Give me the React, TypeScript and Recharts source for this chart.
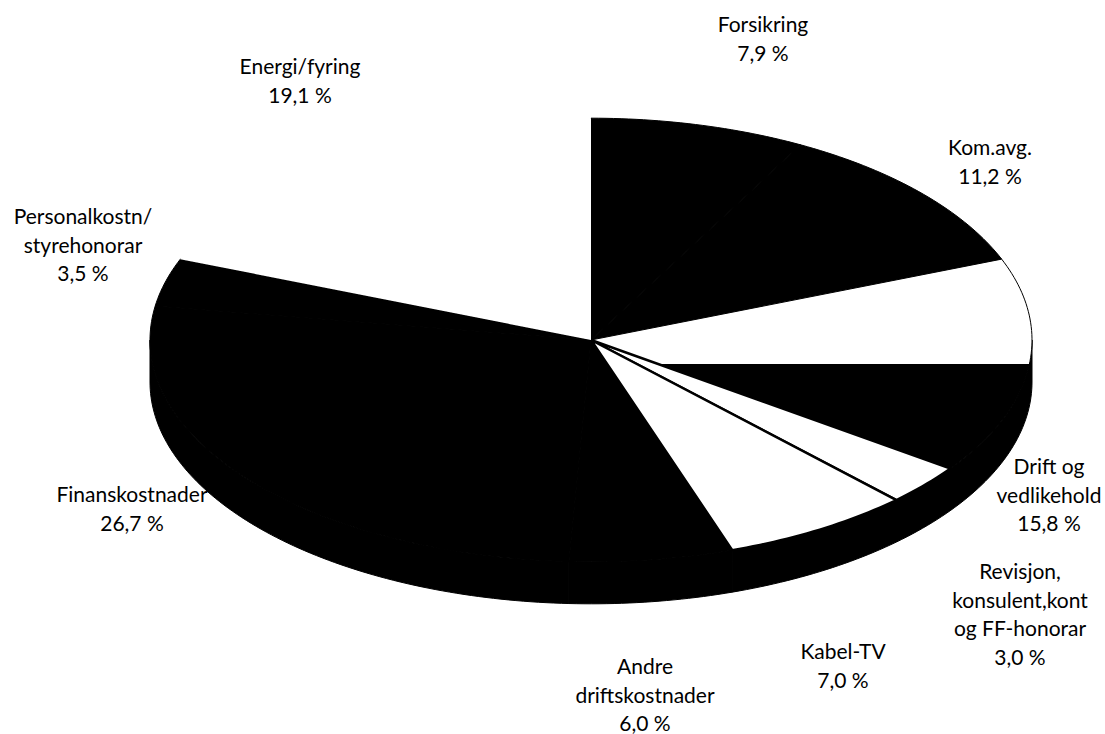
import { Cell, Pie, PieChart } from 'recharts';

// cost shares, clockwise from 12 o'clock
const categories = [
  'Forsikring',
  'Kom.avg.',
  'Drift og\nvedlikehold',
  'Revisjon,\nkonsulent,kont\nog FF-honorar',
  'Kabel-TV',
  'Andre\ndriftskostnader',
  'Finanskostnader',
  'Personalkostn/\nstyrehonorar',
  'Energi/fyring',
];
const shares = [7.9, 11.2, 15.8, 3.0, 7.0, 6.0, 26.7, 3.5, 19.1];

const rows = categories.map((name, i) => ({ name, value: shares[i] }));

const W = 1105;
const H = 734;
const CX = 591;
const CY = 340;
const RX = 441;
const TILT = 0.503; // ry / rx of the tilted top face
const DEPTH = 42;

const topFill = ['#000', '#000', 'url(#driftSplit)', '#fff', '#fff', '#000', '#000', '#000', '#fff'];
const topStroke = ['#000', '#000', '#000', '#000', '#000', '#000', '#000', '#000', 'none'];
const topStrokeW = [1, 1, 1, 2.5, 2.5, 1, 1, 1, 0];

// label block: centre x, centre y of first line
const labelPos: [number, number][] = [
  [763, 25],
  [990, 148],
  [1049, 467],
  [1020, 572],
  [843, 652],
  [645, 667],
  [132, 495],
  [83, 217],
  [300, 67],
];
const LINE_H = 28.5;
const FONT = 'Lato, "Open Sans", sans-serif';

const fmtPct = (v: number) => `${v.toFixed(1).replace('.', ',')} %`;

function rim(cx: number, cy: number, r: number, deg: number, dy = 0): [number, number] {
  const a = (deg * Math.PI) / 180;
  return [cx + r * Math.cos(a), cy - r * TILT * Math.sin(a) + dy];
}

function arcPts(cx: number, cy: number, r: number, from: number, to: number, dy = 0) {
  const n = Math.max(2, Math.ceil(Math.abs(from - to)));
  const pts: [number, number][] = [];
  for (let k = 0; k <= n; k++) pts.push(rim(cx, cy, r, from + ((to - from) * k) / n, dy));
  return pts;
}

const toPath = (pts: [number, number][]) =>
  pts.map((p, k) => `${k === 0 ? 'M' : 'L'}${p[0].toFixed(2)},${p[1].toFixed(2)}`).join(' ') + ' Z';

function TopFace(props: any) {
  const { cx, cy, outerRadius, startAngle, endAngle, fill, stroke, strokeWidth } = props;
  const pts: [number, number][] = [[cx, cy], ...arcPts(cx, cy, outerRadius, startAngle, endAngle)];
  return (
    <path
      d={toPath(pts)}
      fill={fill}
      stroke={stroke}
      strokeWidth={strokeWidth}
      strokeLinejoin="round"
    />
  );
}

function SideWall(props: any) {
  const { cx, cy, outerRadius, startAngle, endAngle } = props;
  const hi = Math.max(startAngle, endAngle);
  const lo = Math.min(startAngle, endAngle);
  const a0 = Math.min(hi, 0);
  const a1 = Math.max(lo, -180);
  if (a0 <= a1) return <g />;
  const pts = [
    ...arcPts(cx, cy, outerRadius, a0, a1, 0),
    ...arcPts(cx, cy, outerRadius, a1, a0, DEPTH),
  ];
  return <path d={toPath(pts)} fill="#000" stroke="#000" strokeWidth={1} />;
}

function renderLabel(p: any) {
  const i = p.index as number;
  const [x, y] = labelPos[i];
  const lines = [...categories[i].split('\n'), fmtPct(shares[i])];
  return (
    <text
      key={`lbl-${i}`}
      x={x}
      y={y + 7}
      textAnchor="middle"
      fontFamily={FONT}
      fontSize={21}
      fill="#000"
    >
      {lines.map((l, k) => (
        <tspan key={k} x={x} dy={k === 0 ? 0 : LINE_H}>
          {l}
        </tspan>
      ))}
    </text>
  );
}

export default function App() {
  return (
    <div style={{ position: 'absolute', left: 0, top: 0, width: W, height: H, background: '#fff' }}>
      <PieChart width={W} height={H} margin={{ top: 0, right: 0, bottom: 0, left: 0 }}>
        <defs>
          <linearGradient id="driftSplit" x1="0" y1="0" x2="0" y2="1">
            <stop offset="0.5" stopColor="#fff" />
            <stop offset="0.5" stopColor="#000" />
          </linearGradient>
        </defs>
        <Pie
          data={rows}
          dataKey="value"
          nameKey="name"
          cx={CX}
          cy={CY}
          outerRadius={RX}
          startAngle={90}
          endAngle={-270}
          shape={SideWall}
          isAnimationActive={false}
          label={false}
          labelLine={false}
        >
          {rows.map((r) => (
            <Cell key={`w-${r.name}`} fill="#000" />
          ))}
        </Pie>
        <Pie
          data={rows}
          dataKey="value"
          nameKey="name"
          cx={CX}
          cy={CY}
          outerRadius={RX}
          startAngle={90}
          endAngle={-270}
          shape={TopFace}
          isAnimationActive={false}
          label={renderLabel}
          labelLine={false}
        >
          {rows.map((r, i) => (
            <Cell key={`t-${r.name}`} fill={topFill[i]} stroke={topStroke[i]} strokeWidth={topStrokeW[i]} />
          ))}
        </Pie>
      </PieChart>
    </div>
  );
}
